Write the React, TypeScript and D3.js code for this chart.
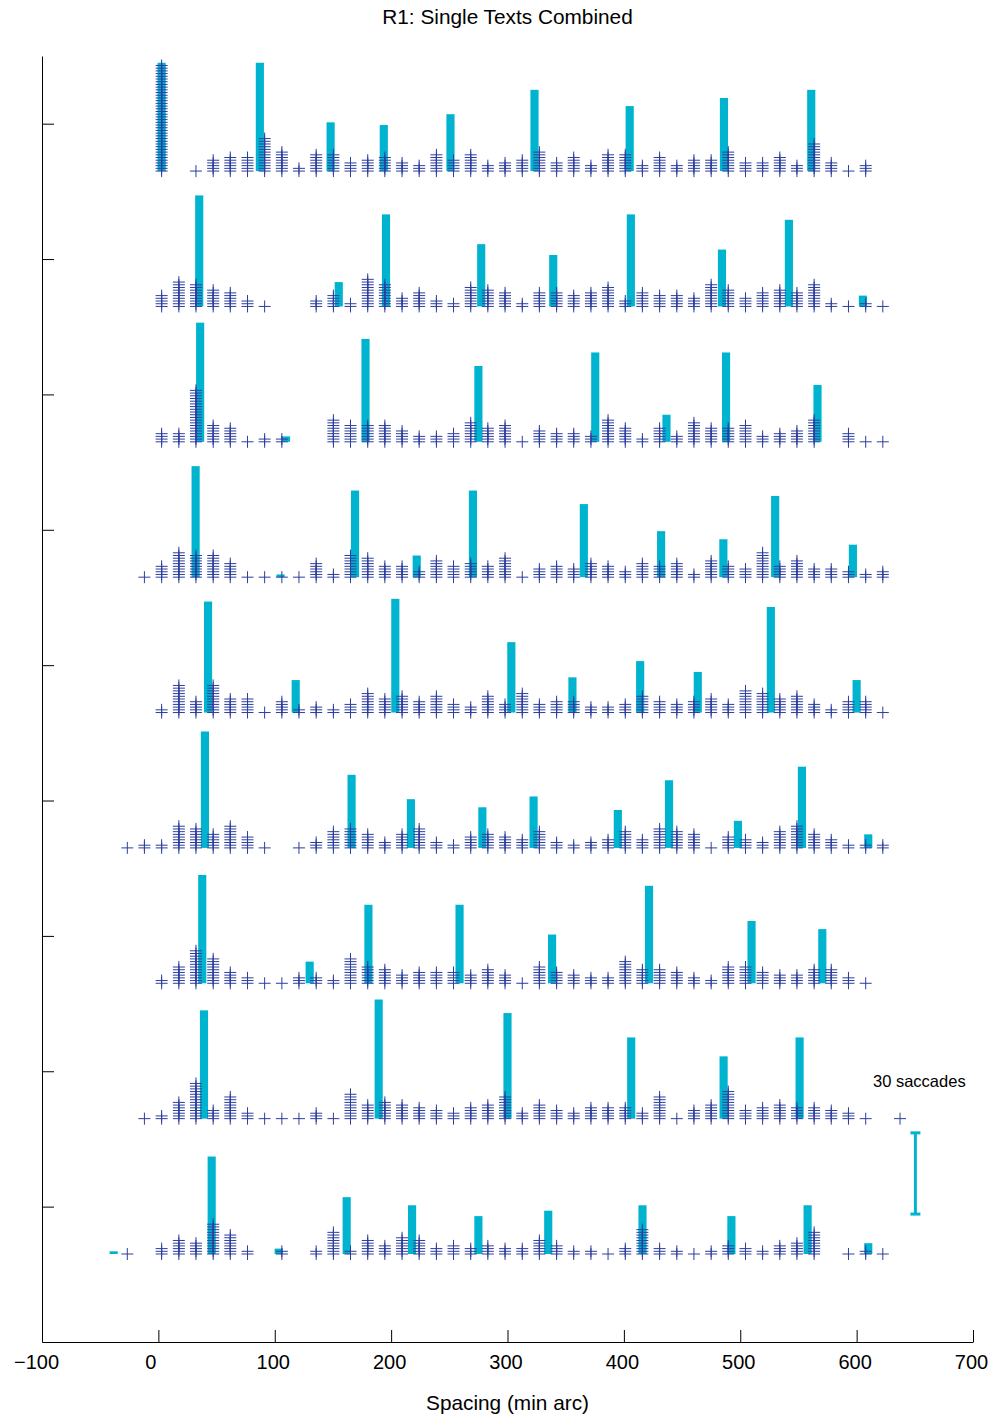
import React, { useRef, useEffect } from "react"
import * as d3 from "d3"

const width = 991
const height = 1415

// letter slot positions (min arc), slot -2 .. 43
const letterPos = [-26.7, -12.0,
  2.8, 17.6, 32.3, 47.1, 61.8, 76.6, 91.3, 106.1, 120.8, 135.6,
  150.4, 165.1, 179.9, 194.6, 209.4, 224.1, 238.9, 253.6, 268.4, 283.1,
  297.9, 312.7, 327.4, 342.2, 356.9, 371.7, 386.4, 401.2, 415.9, 430.7,
  445.5, 460.2, 475.0, 489.7, 504.5, 519.2, 534.0, 548.7, 563.5, 578.2,
  593.0, 607.8, 622.5, 637.3]

// fixations per letter slot, one array per text line (top to bottom)
const fixRow1 = [0, 0, 40, 0, 1, 5, 6, 6, 13, 8, 2, 7, 7, 4, 5, 6, 4, 3, 7, 5, 7, 3, 4, 5, 8, 4, 6, 3, 7, 7, 3, 6, 3, 5, 5, 8, 4, 4, 6, 3, 11, 4, 1, 3, 0, 0]
const fixRow2 = [0, 0, 5, 10, 9, 7, 6, 3, 1, 0, 0, 3, 5, 2, 11, 9, 4, 6, 3, 2, 8, 7, 6, 2, 6, 6, 5, 6, 8, 3, 6, 5, 5, 4, 9, 7, 4, 6, 7, 6, 9, 2, 1, 2, 1, 0]
const fixRow3 = [0, 0, 4, 4, 20, 7, 6, 1, 2, 2, 0, 0, 9, 7, 7, 7, 5, 3, 3, 4, 8, 6, 7, 1, 5, 4, 4, 3, 9, 6, 2, 6, 3, 8, 6, 6, 7, 3, 4, 5, 9, 0, 4, 1, 1, 0]
const fixRow4 = [0, 1, 5, 10, 9, 9, 6, 1, 1, 1, 1, 6, 2, 9, 8, 5, 5, 3, 7, 5, 6, 5, 8, 1, 4, 5, 4, 6, 5, 3, 6, 5, 6, 2, 7, 5, 4, 10, 5, 7, 4, 4, 3, 2, 3, 0]
const fixRow5 = [0, 0, 2, 11, 5, 11, 6, 6, 1, 5, 2, 3, 2, 4, 8, 6, 7, 5, 7, 4, 3, 7, 4, 8, 4, 5, 5, 3, 3, 4, 7, 5, 4, 5, 6, 4, 9, 8, 6, 7, 4, 2, 5, 5, 1, 0]
const fixRow6 = [1, 2, 2, 9, 8, 6, 9, 5, 1, 0, 1, 3, 7, 8, 6, 3, 6, 8, 3, 2, 5, 6, 5, 4, 7, 3, 2, 3, 4, 7, 4, 8, 7, 6, 1, 5, 4, 3, 7, 9, 6, 4, 2, 2, 2, 0]
const fixRow7 = [0, 0, 2, 7, 13, 10, 5, 3, 1, 1, 3, 3, 2, 10, 7, 6, 4, 5, 5, 5, 4, 6, 4, 1, 7, 5, 4, 3, 3, 9, 6, 6, 5, 3, 2, 7, 7, 5, 4, 4, 6, 6, 3, 1, 0, 0]
const fixRow8 = [0, 1, 2, 7, 14, 4, 9, 3, 1, 1, 1, 3, 1, 10, 6, 7, 6, 5, 4, 3, 5, 6, 9, 3, 6, 4, 3, 5, 5, 5, 3, 9, 1, 4, 6, 11, 4, 5, 6, 5, 5, 4, 3, 1, 0, 1]
const fixRow9 = [1, 0, 3, 6, 5, 12, 8, 2, 0, 2, 0, 2, 9, 2, 6, 4, 7, 6, 3, 4, 3, 4, 3, 3, 6, 4, 2, 2, 1, 3, 10, 3, 2, 1, 2, 4, 3, 2, 4, 5, 9, 0, 1, 2, 1, 0]

// saccade landing bars: position (min arc) and count
const barPosRow1 = [2.8, 87.2, 148, 193.7, 251, 323.2, 405, 486, 561]
const barCountRow1 = [40, 40, 18, 17, 21, 30, 24, 27, 30]
const barPosRow2 = [35.1, 155, 195.6, 277.4, 339.3, 406, 484.3, 541.8, 605.4]
const barCountRow2 = [41, 9, 34, 23, 19, 34, 21, 32, 4]
const barPosRow3 = [35.9, 109.7, 178, 275, 375.4, 436.6, 487.8, 566.4]
const barCountRow3 = [44, 2, 38, 28, 33, 10, 33, 21]
const barPosRow4 = [32, 105, 169, 222, 270.3, 365.6, 432, 485.5, 530, 596.8]
const barCountRow4 = [41, 1, 32, 8, 32, 27, 17, 14, 30, 12]
const barPosRow5 = [42.7, 118, 203.6, 303.3, 355.8, 414, 463.5, 526.3, 600]
const barCountRow5 = [41, 12, 42, 26, 13, 19, 15, 39, 12]
const barPosRow6 = [40, 166, 217, 278.4, 322.4, 394.8, 438.8, 498, 553, 610]
const barCountRow6 = [43, 27, 18, 15, 19, 14, 25, 10, 30, 5]
const barPosRow7 = [37.7, 130, 180.5, 258.8, 338.3, 421.6, 509.7, 570.5]
const barCountRow7 = [40, 8, 29, 29, 18, 36, 23, 20]
const barPosRow8 = [39.2, 189.3, 300, 406.3, 485.7, 551]
const barCountRow8 = [40, 44, 39, 30, 23, 30]
const barPosRow9 = [-38.4, 45.8, 103.4, 161.8, 218, 275, 335, 416, 492.4, 557.9, 610]
const barCountRow9 = [1, 36, 2, 21, 18, 14, 16, 18, 14, 18, 4]

const xTicks = [-100, 0, 100, 200, 300, 400, 500, 600, 700]
const yTicks = [1, 2, 3, 4, 5, 6, 7, 8, 9]
const scaleBarCount = 30

const FONT = "'Liberation Sans', Arial, Helvetica, sans-serif"
const CYAN = "#00b4cf"
const BLUE = "#2c3e9e"

const App = () => {
  const ref = useRef<SVGSVGElement>(null)

  useEffect(() => {
    const svg = d3.select(ref.current)
    svg.selectAll("*").remove()

    const x = d3.scaleLinear().domain([-100, 700]).range([42, 973])
    const y = d3.scaleLinear().domain([0, 9.5]).range([1342, 56])

    const rows = [
      { level: 9, fix: fixRow1, barPos: barPosRow1, barN: barCountRow1 },
      { level: 8, fix: fixRow2, barPos: barPosRow2, barN: barCountRow2 },
      { level: 7, fix: fixRow3, barPos: barPosRow3, barN: barCountRow3 },
      { level: 6, fix: fixRow4, barPos: barPosRow4, barN: barCountRow4 },
      { level: 5, fix: fixRow5, barPos: barPosRow5, barN: barCountRow5 },
      { level: 4, fix: fixRow6, barPos: barPosRow6, barN: barCountRow6 },
      { level: 3, fix: fixRow7, barPos: barPosRow7, barN: barCountRow7 },
      { level: 2, fix: fixRow8, barPos: barPosRow8, barN: barCountRow8 },
      { level: 1, fix: fixRow9, barPos: barPosRow9, barN: barCountRow9 },
    ]
    const perCount = 0.02 // 50 counts per row unit
    const offset = 0.35
    const barHalf = 3.5
    const arm = 6

    rows.forEach(r => {
      const base = r.level - offset
      const g = svg.append("g")
      g.selectAll("rect")
        .data(r.barPos)
        .enter()
        .append("rect")
          .attr("x", d => x(d - barHalf))
          .attr("width", x(barHalf) - x(-barHalf))
          .attr("y", (d, i) => y(base + r.barN[i] * perCount))
          .attr("height", (d, i) => y(base) - y(base + r.barN[i] * perCount))
          .attr("fill", CYAN)

      const marks: { p: number, k: number }[] = []
      r.fix.forEach((n, j) => {
        for (let k = 0; k < n; k++) marks.push({ p: letterPos[j], k })
      })
      g.selectAll("path")
        .data(marks)
        .enter()
        .append("path")
          .attr("d", d => {
            const cx = x(d.p), cy = y(base + d.k * perCount)
            return `M${cx - arm},${cy}H${cx + arm}M${cx},${cy - arm}V${cy + arm}`
          })
          .attr("stroke", BLUE)
          .attr("stroke-width", 1)
          .attr("fill", "none")
    })

    // axes
    const xAxis = d3.axisBottom(x).tickValues(xTicks).tickSizeInner(-12).tickSizeOuter(0).tickPadding(13).tickFormat(d3.format("d"))
    const gx = svg.append("g")
      .attr("transform", "translate(0,1342)")
      .call(xAxis)
      .attr("font-size", 20)
      .attr("font-family", FONT)
    // labels sit slightly left of their ticks in the original
    gx.selectAll(".tick text")
      .attr("dx", (d: any) => d === 0 ? -8 : d < 0 ? -6 : -2)

    const yAxis = d3.axisLeft(y).tickValues(yTicks).tickSizeInner(-12).tickSizeOuter(0).tickFormat(() => "")
    svg.append("g")
      .attr("transform", "translate(42,0)")
      .call(yAxis)

    svg.append("text")
      .attr("x", 507.5).attr("y", 24)
      .attr("text-anchor", "middle")
      .attr("font-family", FONT).attr("font-size", 20.8)
      .text("R1: Single Texts Combined")

    svg.append("text")
      .attr("x", 507.5).attr("y", 1410)
      .attr("text-anchor", "middle")
      .attr("font-family", FONT).attr("font-size", 20.8)
      .text("Spacing (min arc)")

    // scale bar: 30 saccades
    const sbx = x(650.5)
    const sbBottom = 0.945
    const sb = svg.append("g").attr("stroke", CYAN).attr("stroke-width", 3)
    sb.append("line").attr("x1", sbx).attr("x2", sbx).attr("y1", y(sbBottom)).attr("y2", y(sbBottom + scaleBarCount * perCount))
    sb.append("line").attr("x1", sbx - 5).attr("x2", sbx + 5).attr("y1", y(sbBottom)).attr("y2", y(sbBottom))
    sb.append("line").attr("x1", sbx - 5).attr("x2", sbx + 5).attr("y1", y(sbBottom + scaleBarCount * perCount)).attr("y2", y(sbBottom + scaleBarCount * perCount))

    svg.append("text")
      .attr("x", 873).attr("y", 1087)
      .attr("font-family", FONT).attr("font-size", 16.5)
      .text(`${scaleBarCount} saccades`)
  }, [])

  return (
    <svg ref={ref} width={width} height={height} style={{ position: "absolute", left: 0, top: 0, background: "#fff" }} />
  )
}

export default App
